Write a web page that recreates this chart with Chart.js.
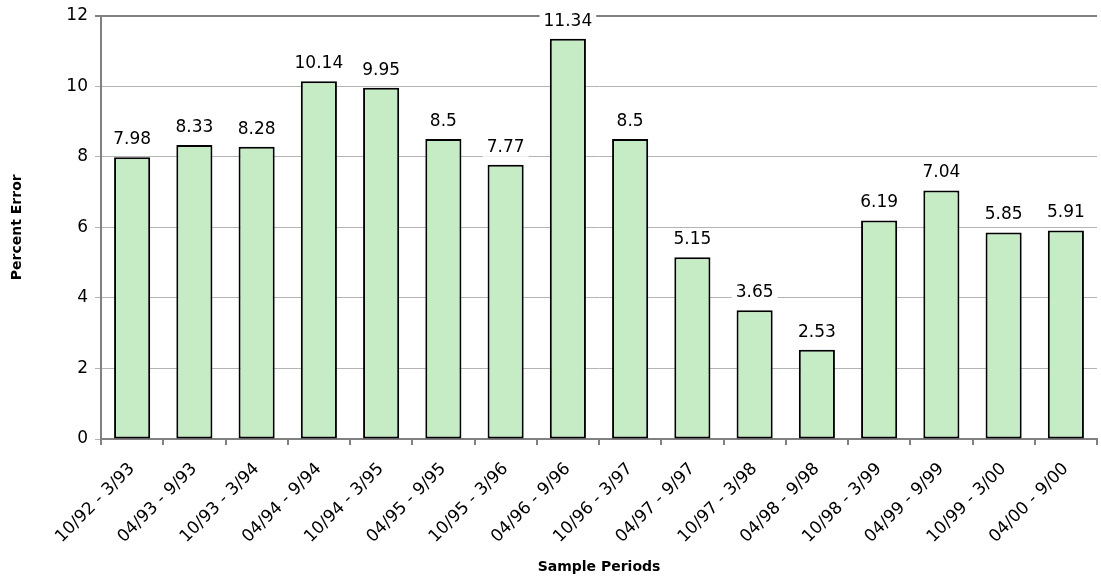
<!DOCTYPE html>
<html>
<head>
<meta charset="utf-8">
<script src="https://cdn.jsdelivr.net/npm/chart.js@4"></script>
<style>
  html, body { margin: 0; padding: 0; background: #fff; }
  #wrap { width: 1101px; height: 581px; }
</style>
</head>
<body>
<div id="wrap"><canvas id="errChart" width="1101" height="581"></canvas></div>
<script>
const periods = ['10/92 - 3/93', '04/93 - 9/93', '10/93 - 3/94', '04/94 - 9/94', '10/94 - 3/95',
  '04/95 - 9/95', '10/95 - 3/96', '04/96 - 9/96', '10/96 - 3/97', '04/97 - 9/97', '10/97 - 3/98',
  '04/98 - 9/98', '10/98 - 3/99', '04/99 - 9/99', '10/99 - 3/00', '04/00 - 9/00'];
const percentError = [7.98, 8.33, 8.28, 10.14, 9.95, 8.5, 7.77, 11.34, 8.5, 5.15, 3.65, 2.53, 6.19, 7.04, 5.85, 5.91];

const FONT = '"DejaVu Sans", Verdana, sans-serif';

// value labels above each bar, on a white box so grid lines don't cut through
const barLabels = {
  id: 'barLabels',
  afterDatasetsDraw(chart) {
    const ctx = chart.ctx;
    const meta = chart.getDatasetMeta(0);
    ctx.save();
    ctx.font = '17px ' + FONT;
    ctx.textAlign = 'center';
    ctx.textBaseline = 'bottom';
    meta.data.forEach((bar, i) => {
      const txt = String(percentError[i]);
      const w = ctx.measureText(txt).width;
      const y = bar.y - 9;
      ctx.fillStyle = '#fff';
      ctx.fillRect(bar.x - w / 2 - 4, y - 19, w + 8, 20);
      ctx.fillStyle = '#000';
      ctx.fillText(txt, bar.x, y);
    });
    ctx.restore();
  }
};

new Chart(document.getElementById('errChart').getContext('2d'), {
  type: 'bar',
  data: {
    labels: periods,
    datasets: [{
      label: 'Percent Error',
      data: percentError,
      backgroundColor: 'rgb(198, 236, 198)',
      borderColor: '#000',
      borderWidth: 2,
      borderSkipped: false,
      categoryPercentage: 1,
      barPercentage: 0.58
    }]
  },
  options: {
    responsive: false,
    animation: false,
    layout: { padding: { top: 10, right: 4, left: 0, bottom: 0 } },
    plugins: {
      legend: { display: false },
      tooltip: { enabled: false }
    },
    scales: {
      x: {
        afterFit: s => { s.height = 142; },
        grid: {
          offset: true,
          drawOnChartArea: false,
          drawTicks: true,
          tickLength: 6,
          color: '#808080',
          lineWidth: 2
        },
        border: { color: '#808080', width: 2 },
        ticks: {
          color: '#000',
          font: { family: FONT, size: 17 },
          maxRotation: 45,
          minRotation: 45,
          autoSkip: false,
          padding: 14
        },
        title: {
          display: true,
          text: 'Sample Periods',
          color: '#000',
          font: { family: FONT, size: 14, weight: 'bold' },
          padding: { top: 0, bottom: 5 }
        }
      },
      y: {
        min: 0,
        max: 12,
        afterFit: s => { s.width = 101; },
        grid: {
          color: ctx => ctx.tick && ctx.tick.value === 12 ? '#808080' : '#b4b4b4',
          lineWidth: ctx => ctx.tick && ctx.tick.value === 12 ? 2 : 1,
          drawTicks: true,
          tickLength: 6
        },
        border: { color: '#808080', width: 2 },
        ticks: {
          stepSize: 2,
          color: '#000',
          font: { family: FONT, size: 17, lineHeight: 1 },
          padding: 7
        },
        title: {
          display: true,
          text: 'Percent Error',
          color: '#000',
          font: { family: FONT, size: 14, weight: 'bold' },
          padding: { top: 9, bottom: 0 }
        }
      }
    }
  },
  plugins: [barLabels]
});
</script>
</body>
</html>
